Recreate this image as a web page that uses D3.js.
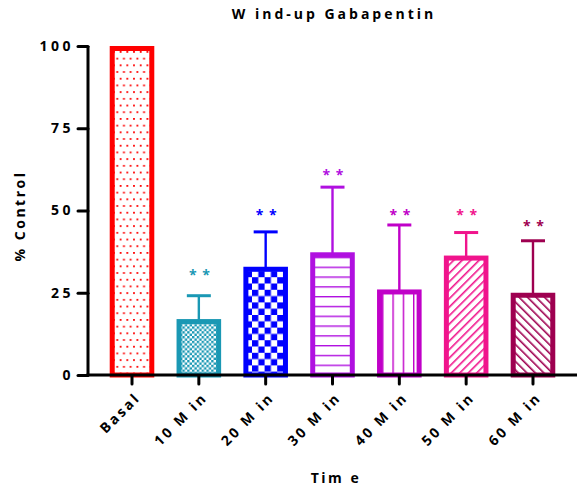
<!DOCTYPE html>
<html><head><meta charset="utf-8">
<script src="https://cdn.jsdelivr.net/npm/d3@7"></script>
<style>
body{margin:0;background:#fff;}
text{font-family:"Open Sans",sans-serif;font-weight:bold;}
</style></head>
<body><svg id="c" width="577" height="489"></svg>
<script>
const categories = ["Basal","10 M in","20 M in","30 M in","40 M in","50 M in","60 M in"];
const means = [100, 17.0, 32.9, 37.3, 26.0, 36.3, 25.0];
const errUpper = [null, 24.1, 43.5, 57.1, 45.6, 43.3, 40.8];
const starLevels = [null, 31.4, 49.5, 61.8, 49.6, 49.6, 46.2];
const starText = ["", "* *", "* *", "* *", "* *", "* *", "* *"];
const colors = ["#ff0000","#1a98b4","#0000ff","#b010e0","#c000c8","#f0148c","#9e0050"];
const patterns = ["dots","checkSmall","checkLarge","hlines","vlines","diagUp","diagDown"];
const yTicks = [0,25,50,75,100];

const svg = d3.select("#c");
const defs = svg.append("defs");

const x = d3.scaleBand().domain(categories).range([88,577]).paddingInner(0.333).paddingOuter(0.325);
const y = d3.scaleLinear().domain([0,100]).range([375,46]);

categories.forEach((c,i)=>{
  const col = colors[i], id = "p"+i, kind = patterns[i];
  let p;
  if(kind==="dots"){
    p = defs.append("pattern").attr("id",id).attr("patternUnits","userSpaceOnUse").attr("width",6.7).attr("height",13.4).attr("x",113).attr("y",51);
    p.append("rect").attr("x",0).attr("y",0).attr("width",1.8).attr("height",1.8).attr("fill",col);
    p.append("rect").attr("x",3.35).attr("y",6.7).attr("width",1.8).attr("height",1.8).attr("fill",col);
  } else if(kind==="checkSmall" || kind==="checkLarge"){
    const s = kind==="checkSmall"?2.4:6.3;
    p = defs.append("pattern").attr("id",id).attr("patternUnits","userSpaceOnUse").attr("width",2*s).attr("height",2*s);
    p.append("rect").attr("width",2*s).attr("height",2*s).attr("fill","#fff");
    p.append("rect").attr("x",0).attr("y",0).attr("width",s).attr("height",s).attr("fill",col);
    p.append("rect").attr("x",s).attr("y",s).attr("width",s).attr("height",s).attr("fill",col);
  } else if(kind==="hlines"){
    p = defs.append("pattern").attr("id",id).attr("patternUnits","userSpaceOnUse").attr("width",10).attr("height",9.8).attr("y",2);
    p.append("rect").attr("x",0).attr("y",0).attr("width",10).attr("height",1.4).attr("fill",col);
  } else if(kind==="vlines"){
    p = defs.append("pattern").attr("id",id).attr("patternUnits","userSpaceOnUse").attr("width",10.3).attr("height",10).attr("x",1);
    p.append("rect").attr("x",0).attr("y",0).attr("width",1.4).attr("height",10).attr("fill",col);
  } else {
    p = defs.append("pattern").attr("id",id).attr("patternUnits","userSpaceOnUse").attr("width",6).attr("height",6)
      .attr("patternTransform", kind==="diagUp"?"rotate(45)":"rotate(-45)");
    p.append("rect").attr("x",0).attr("y",0).attr("width",1.6).attr("height",6).attr("fill",col);
  }
});

const sw = 5;
const g = svg.append("g");
g.selectAll("rect.bar").data(categories).join("rect").attr("class","bar")
  .attr("x",d=>x(d)+sw/2).attr("width",x.bandwidth()-sw)
  .attr("y",(d,i)=>y(means[i])+sw/2).attr("height",(d,i)=>y(0)-y(means[i])-sw/2)
  .attr("fill",(d,i)=>"url(#p"+i+")").attr("stroke",(d,i)=>colors[i]).attr("stroke-width",sw);

categories.forEach((c,i)=>{
  if(errUpper[i]==null) return;
  const cx = x(c)+x.bandwidth()/2;
  g.append("line").attr("x1",cx).attr("x2",cx).attr("y1",y(means[i])+2).attr("y2",y(errUpper[i]))
    .attr("stroke",colors[i]).attr("stroke-width",2.4);
  g.append("line").attr("x1",cx-12).attr("x2",cx+12).attr("y1",y(errUpper[i])).attr("y2",y(errUpper[i]))
    .attr("stroke",colors[i]).attr("stroke-width",3);
  g.append("text").attr("x",cx+1).attr("y",y(starLevels[i])+8).attr("text-anchor","middle")
    .attr("fill",colors[i]).attr("font-size",14).style("letter-spacing","1px").text(starText[i]);
});

const yAxis = svg.append("g").attr("transform","translate(88,0)")
  .call(d3.axisLeft(y).tickValues(yTicks).tickSize(10).tickPadding(4));
yAxis.select(".domain").attr("d",`M0,${y(100)}V${y(0)}`).attr("stroke","#000").attr("stroke-width",3);
yAxis.selectAll(".tick line").attr("stroke","#000").attr("stroke-width",3).attr("stroke-linecap","round");
yAxis.selectAll(".tick text").attr("font-size",14).attr("fill","#000").style("letter-spacing","3.5px").attr("x",-14);

const xAxis = svg.append("g").attr("transform",`translate(0,${y(0)})`)
  .call(d3.axisBottom(x).tickSize(9).tickPadding(4));
xAxis.select(".domain").attr("d","M86.5,0H577").attr("stroke","#000").attr("stroke-width",3);
xAxis.selectAll(".tick line").attr("stroke","#000").attr("stroke-width",3).attr("stroke-linecap","round").attr("y1",1);
xAxis.selectAll(".tick text").attr("font-size",14).attr("fill","#000").style("letter-spacing","2.6px")
  .attr("text-anchor","end").attr("transform","translate(6,20) rotate(-45)").attr("y",0).attr("dy","0.35em");

svg.append("text").attr("x",334).attr("y",19).attr("text-anchor","middle").attr("font-size",14).style("letter-spacing","3px").text("W ind-up Gabapentin");
svg.append("text").attr("transform","translate(25,216) rotate(-90)").attr("text-anchor","middle").attr("font-size",14).style("letter-spacing","2.5px").text("% Control");
svg.append("text").attr("x",336).attr("y",483).attr("text-anchor","middle").attr("font-size",14).style("letter-spacing","2.5px").text("Tim e");
</script></body></html>
